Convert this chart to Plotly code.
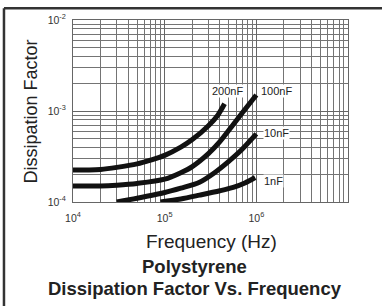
import numpy as np
import plotly.graph_objects as go

# Data (frequency in Hz, dissipation factor)
f_200nF = [1e4, 1.5e4, 2e4, 3e4, 5e4, 7e4, 1e5, 1.5e5, 2e5, 3e5, 3.8e5, 4.5e5]
d_200nF = [2.25e-4, 2.25e-4, 2.28e-4, 2.4e-4, 2.62e-4, 2.88e-4, 3.25e-4, 4.0e-4, 4.85e-4, 6.9e-4, 9.0e-4, 1.2e-3]

f_100nF = [1e4, 2e4, 3e4, 5e4, 1e5, 1.5e5, 2e5, 3e5, 4e5, 5.6e5, 7e5, 1e6]
d_100nF = [1.5e-4, 1.5e-4, 1.53e-4, 1.6e-4, 1.78e-4, 2.1e-4, 2.45e-4, 3.4e-4, 4.6e-4, 7.1e-4, 9.5e-4, 1.5e-3]

f_10nF = [3e4, 5e4, 1e5, 1.5e5, 2.4e5, 3.5e5, 5e5, 7e5, 1e6]
d_10nF = [1.0e-4, 1.1e-4, 1.27e-4, 1.42e-4, 1.65e-4, 2.1e-4, 2.8e-4, 3.8e-4, 5.6e-4]

f_1nF = [9e4, 1.5e5, 2.4e5, 4e5, 5.6e5, 7.5e5, 9.7e5]
d_1nF = [1.0e-4, 1.08e-4, 1.19e-4, 1.33e-4, 1.45e-4, 1.62e-4, 1.86e-4]

series_names = ["200nF", "100nF", "10nF", "1nF"]
series_f = [f_200nF, f_100nF, f_10nF, f_1nF]
series_d = [d_200nF, d_100nF, d_10nF, d_1nF]
# label positions (frequency, dissipation factor)
label_f = [4.8e5, 1.68e6, 1.64e6, 1.55e6]
label_d = [1.68e-3, 1.68e-3, 5.66e-4, 1.72e-4]

x_tick_vals = [1e4, 1e5, 1e6]
x_tick_text = ["10<sup>4</sup>", "10<sup>5</sup>", "10<sup>6</sup>"]
y_tick_vals = [1e-4, 1e-3, 1e-2]
y_tick_text = ["10<sup>-4</sup>", "10<sup>-3</sup>", "10<sup>-2</sup>"]

title_axis_x = "Frequency (Hz)"
title_axis_y = "Dissipation Factor"
title_1 = "Polystyrene"
title_2 = "Dissipation Factor Vs. Frequency"

FONT = "Liberation Sans, Arial, sans-serif"

fig = go.Figure()
for name, fx, dy in zip(series_names, series_f, series_d):
    fig.add_trace(go.Scatter(x=fx, y=dy, mode="lines", name=name,
                             line=dict(color="#111111", width=5, shape="spline", smoothing=0.8),
                             showlegend=False, hoverinfo="x+y+name"))

annotations = []
for name, lf, ld in zip(series_names, label_f, label_d):
    annotations.append(dict(x=np.log10(lf), y=np.log10(ld), xref="x", yref="y", text=name,
                            showarrow=False, font=dict(family=FONT, size=11, color="#222"),
                            bgcolor="white", borderpad=0))

annotations += [
    dict(x=0.505, y=-0.215, xref="paper", yref="paper", text=title_axis_x, showarrow=False,
         font=dict(family=FONT, size=19, color="#222"), xanchor="center", yanchor="middle"),
    dict(x=-0.1545, y=0.4946, xref="paper", yref="paper", text=title_axis_y, showarrow=False,
         textangle=-90, font=dict(family=FONT, size=18, color="#222"), xanchor="center", yanchor="middle"),
    dict(x=0.442, y=-0.355, xref="paper", yref="paper", text="<b>" + title_1 + "</b>", showarrow=False,
         font=dict(family=FONT, size=18.5, color="#222"), xanchor="center", yanchor="middle"),
    dict(x=0.442, y=-0.473, xref="paper", yref="paper", text="<b>" + title_2 + "</b>", showarrow=False,
         font=dict(family=FONT, size=18.5, color="#222"), xanchor="center", yanchor="middle"),
]

shapes = [
    dict(type="line", xref="paper", yref="paper", x0=-0.251, x1=1.13, y0=1.0645, y1=1.0645,
         line=dict(color="#333", width=2.5)),
    dict(type="line", xref="paper", yref="paper", x0=-0.251, x1=-0.251, y0=1.0645, y1=-0.6,
         line=dict(color="#333", width=2.5)),
]

axis_common = dict(type="log", showgrid=True, gridcolor="#666666", gridwidth=1,
                   minor=dict(showgrid=True, gridcolor="#747474", gridwidth=1, dtick="D1", ticks=""),
                   showline=True, linecolor="#666", linewidth=1, mirror=True,
                   ticks="", tickmode="array",
                   tickfont=dict(family=FONT, size=10.5, color="#333"), zeroline=False)

fig.update_layout(
    width=382, height=306,
    margin=dict(l=73, r=34, t=16, b=104),
    paper_bgcolor="white", plot_bgcolor="white",
    xaxis=dict(range=[4, 7], tickvals=x_tick_vals, ticktext=x_tick_text, ticklabelstandoff=6, **axis_common),
    yaxis=dict(range=[-4, -2], tickvals=y_tick_vals, ticktext=y_tick_text, ticklabelstandoff=4, **axis_common),
    annotations=annotations, shapes=shapes,
)
fig.write_html("out.html", config={"displayModeBar": False},
               post_script="document.body.style.margin='0';")
